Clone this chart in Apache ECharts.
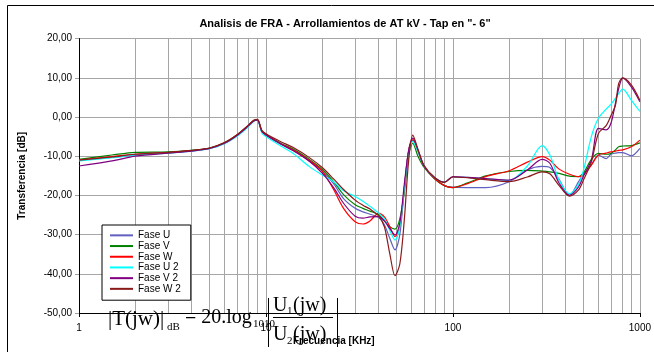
<!DOCTYPE html>
<html><head><meta charset="utf-8">
<script src="https://cdn.jsdelivr.net/npm/echarts@6/dist/echarts.min.js"></script>
<style>html,body{margin:0;padding:0;background:#fff}#c{width:654px;height:352px}</style>
</head><body><div id="c"></div>
<script>
// Frequencies in kHz
const freq = [1, 1.5, 2, 3, 4, 5, 6, 7, 8, 8.6, 9, 9.5, 10, 12, 14, 17, 20, 23, 26, 30,
  33, 36, 40, 43, 46, 49, 52, 55, 58, 61, 65, 70, 80, 90, 100, 120, 150, 200, 250, 300,
  330, 370, 420, 470, 500, 550, 600, 660, 700, 740, 770, 810, 900, 1000];

const faseU = [-11, -10.3, -9.7, -9.1, -8.6, -8.0, -6.7, -4.7, -2.4, -1.0, -0.8, -3.7, -4.6, -6.9, -8.5, -11.2, -13.8, -17.0, -20.8, -23.3,
  -24.2, -24.8, -25.6, -27.5, -31, -33.9, -30, -18, -8.5, -5.9, -8.6, -12.5, -15.8, -17.5, -17.9, -18.0, -18.0, -16.5, -13.5, -12.6,
  -12.9, -16, -20, -16.5, -14.5, -12.2, -9.7, -10.6, -9.5, -9.2, -9.1, -9.1, -9.9, -8.0];

const faseV = [-10.8, -9.7, -9.0, -8.9, -8.5, -7.9, -6.6, -4.6, -2.3, -0.9, -0.7, -3.5, -4.4, -6.7, -8.2, -10.8, -13.4, -16.5, -19.8, -22.4,
  -23.3, -24.0, -24.9, -26.5, -28, -28.6, -26, -19, -9.5, -6.7, -10, -12.8, -15.8, -17.5, -18, -16.8, -15.0, -13.9, -13.6, -13.8,
  -14, -14.4, -15.1, -15.2, -14.2, -10.8, -9.3, -9.5, -9.3, -8.4, -7.6, -7.4, -7.3, -6.6];

const faseW = [-11, -10.1, -9.5, -9.1, -8.6, -8.0, -6.6, -4.6, -2.3, -0.9, -0.7, -3.6, -4.5, -6.8, -8.4, -11.0, -13.8, -18.5, -23.3, -26.7,
  -27.3, -26.5, -24.6, -25.5, -28, -30.5, -28, -18, -8.5, -5.8, -8.6, -12.5, -15.8, -17.5, -18, -17, -15.2, -13.7, -11.5, -10.1,
  -11, -13.3, -14.6, -15.2, -14.8, -12.3, -9.7, -9.2, -8.9, -8.7, -8.5, -8.4, -7.6, -5.9];

const faseU2 = [-11.2, -10.4, -9.7, -9.2, -8.7, -8.1, -6.8, -4.9, -2.6, -1.1, -0.8, -4.0, -5.0, -7.4, -9.3, -12.6, -14.8, -16.5, -18.8, -20.3,
  -21.5, -22.8, -24.5, -26, -29, -31.4, -28, -18, -9, -6.2, -8.8, -12.5, -15.5, -16.6, -15.3, -15.4, -15.8, -16.2, -12.5, -7.3,
  -9.7, -16.1, -19.6, -17.2, -13.5, -5.0, -0.3, 2.0, 3.2, 4.8, 6.0, 7.1, 4.3, 1.4];

const faseV2 = [-12.5, -11.2, -10.0, -9.2, -8.7, -8.0, -6.7, -4.7, -2.4, -1.0, -0.8, -3.7, -4.6, -6.9, -8.6, -11.2, -14.3, -18, -22, -25.3,
  -25.8, -25.5, -25.4, -26.5, -28.5, -30.1, -27, -17, -8.5, -5.4, -8.4, -12.5, -15.5, -16.6, -15.2, -15.4, -15.7, -16.1, -13.5, -10.8,
  -11.8, -16.9, -20, -17.8, -15, -11, -2.9, -3.3, -1.6, 3.5, 7.2, 9.9, 7.7, 3.9];

const faseW2 = [-11, -10.2, -9.5, -9.0, -8.5, -7.9, -6.5, -4.5, -2.2, -0.8, -0.6, -3.4, -4.3, -6.3, -7.8, -10.3, -12.9, -15.8, -18.5, -21.2,
  -22.5, -23.5, -25.2, -28, -35, -40.5, -37.5, -26, -11, -4.6, -8.2, -12.3, -15.5, -16.7, -15.3, -15.5, -16.0, -16.5, -15.3, -14,
  -14.5, -17.5, -20.2, -18.6, -16, -11.5, -4.2, -2.2, 0.3, 3, 8.5, 10, 8.2, 4.3];

const seriesNames = ['Fase U', 'Fase V', 'Fase W', 'Fase U 2', 'Fase V 2', 'Fase W 2'];
const seriesValues = [faseU, faseV, faseW, faseU2, faseV2, faseW2];
const xTickLabels = ['1', '10', '100', '1000'];
const minorGridValues = [2, 3, 4, 5, 6, 7, 8, 9, 20, 30, 40, 50, 60, 70, 80, 90, 200, 300, 400, 500, 600, 700, 800, 900];

const colors = ['#6060C0', '#008000', '#FF0000', '#00FFFF', '#800080', '#8B1A1A'];
const SANS = 'Liberation Sans, Arial, sans-serif';
const SERIF = 'Liberation Serif, Times New Roman, serif';

const chart = echarts.init(document.getElementById('c'), null, {renderer: 'canvas'});

const series = [{
  name: '__grid', type: 'line', data: [], silent: true,
  markLine: {
    silent: true, z: 1, animation: false,
    symbol: ['none', 'none'],
    label: {show: false},
    lineStyle: {color: '#a6a6a6', type: 'solid', width: 1},
    emphasis: {disabled: true},
    data: minorGridValues.map(v => ({xAxis: v}))
  }
}];
seriesNames.forEach((n, i) => {
  series.push({
    name: n, type: 'line', showSymbol: false, smooth: 0.3,
    lineStyle: {width: 1.2, color: colors[i]},
    itemStyle: {color: colors[i]},
    z: 3 + i,
    data: freq.map((f, k) => [f, seriesValues[i][k]])
  });
});

const T = (text, x, y, size, extra) => Object.assign({
  type: 'text', x: x, y: y, silent: true, z: 100,
  style: {text: text, font: size + 'px ' + SERIF, fill: '#000',
    textAlign: 'left', textVerticalAlign: 'middle', align: 'left', verticalAlign: 'middle'}
}, extra || {});
const L = (x1, y1, x2, y2) => ({type: 'line', silent: true, z: 100,
  shape: {x1: x1, y1: y1, x2: x2, y2: y2}, style: {stroke: '#000', lineWidth: 1}});

chart.setOption({
  animation: false,
  color: colors,
  title: {
    text: 'Analisis de FRA - Arrollamientos de AT kV - Tap en "- 6"',
    left: 340, top: 13, textAlign: 'center',
    textStyle: {fontFamily: SANS, fontSize: 11, fontWeight: 'bold', color: '#000'}
  },
  grid: {left: 79, right: 9, top: 38.6, bottom: 39},
  legend: {
    data: seriesNames, orient: 'vertical', left: 102, top: 225,
    icon: 'rect', itemWidth: 23, itemHeight: 2, itemGap: 0,
    padding: [5, 10, 6, 8],
    backgroundColor: '#fff', borderColor: '#000', borderWidth: 1, borderRadius: 0,
    selectedMode: false,
    textStyle: {fontFamily: SANS, fontSize: 10, lineHeight: 10.7, color: '#000'}
  },
  xAxis: {
    type: 'log', logBase: 10, min: 1, max: 1000,
    axisLine: {show: true, onZero: false, lineStyle: {color: '#000', width: 1}},
    axisTick: {show: true, length: 4, lineStyle: {color: '#000'}},
    axisLabel: {fontFamily: SANS, fontSize: 10, color: '#000', margin: 10,
      formatter: v => xTickLabels[Math.round(Math.log10(v))]},
    splitLine: {show: true, lineStyle: {color: '#a6a6a6', width: 1}},
    minorTick: {show: false}, minorSplitLine: {show: false}
  },
  yAxis: {
    type: 'value', min: -50, max: 20, interval: 10,
    name: 'Transferencia [dB]', nameLocation: 'middle', nameGap: 52,
    nameTextStyle: {fontFamily: SANS, fontSize: 10, fontWeight: 'bold', color: '#000'},
    axisLine: {show: true, onZero: false, lineStyle: {color: '#000', width: 1}},
    axisTick: {show: true, length: 4, lineStyle: {color: '#a0a0a0'}},
    axisLabel: {fontFamily: SANS, fontSize: 10, color: '#000', margin: 7,
      formatter: v => v.toFixed(2).replace('.', ',')},
    splitLine: {show: true, lineStyle: {color: '#a6a6a6', width: 1}}
  },
  graphic: [
    {type: 'rect', silent: true, z: 0, shape: {x: 7.5, y: 5.5, width: 720, height: 420},
      style: {fill: null, stroke: '#000', lineWidth: 1}},
    T('|T(jw)|', 108, 319, 21),
    T('dB', 167, 327, 11),
    T('= 20.log', 185, 318, 20),
    T('1010', 253, 324, 11),
    L(268.5, 298, 268.5, 347),
    L(337.5, 298, 337.5, 347),
    T('U', 273, 306, 20),
    T('1', 287, 311, 11),
    T('(jw)', 293, 306, 20),
    L(273, 317.5, 333, 317.5),
    T('U', 273, 335, 20),
    T('2', 287, 341, 11),
    T('(jw)', 293, 335, 20),
    {type: 'text', x: 293, y: 341, silent: true, z: 101,
      style: {text: 'Frecuencia [KHz]', font: 'bold 10px ' + SANS, fill: '#000',
        textAlign: 'left', textVerticalAlign: 'middle', align: 'left', verticalAlign: 'middle'}}
  ],
  series: series
});
</script>
</body></html>
